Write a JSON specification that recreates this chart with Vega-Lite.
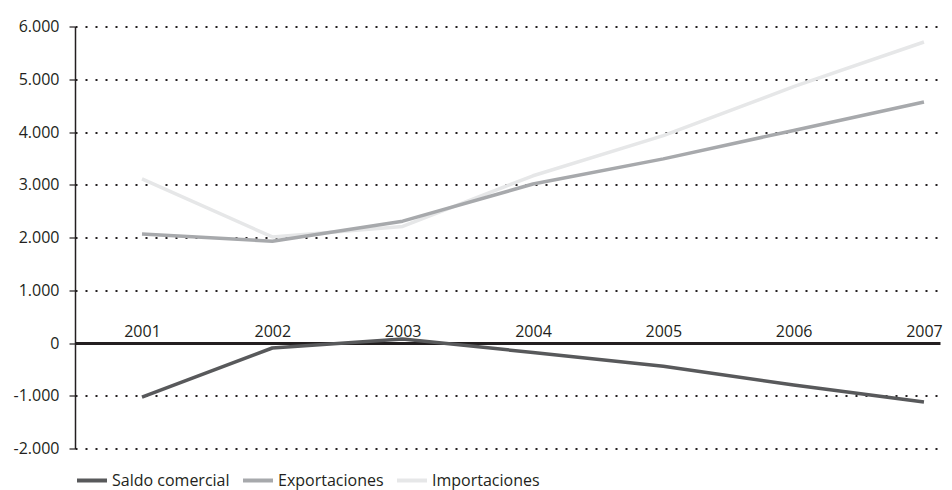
{
  "$schema": "https://vega.github.io/schema/vega-lite/v6.json",
  "autosize": {"type": "none"},
  "width": 865,
  "height": 422,
  "padding": {"left": 75, "top": 26.5, "right": 12, "bottom": 41.5},
  "background": "white",
  "config": {
    "view": {"stroke": null},
    "font": "Open Sans",
    "axis": {"labelFont": "Open Sans", "labelColor": "#231f20", "labelFontSize": 16}
  },
  "data": {
    "values": [
      {"year": 2001, "serie": "Importaciones", "valor": 3110},
      {"year": 2002, "serie": "Importaciones", "valor": 2010},
      {"year": 2003, "serie": "Importaciones", "valor": 2210},
      {"year": 2004, "serie": "Importaciones", "valor": 3170},
      {"year": 2005, "serie": "Importaciones", "valor": 3930},
      {"year": 2006, "serie": "Importaciones", "valor": 4860},
      {"year": 2007, "serie": "Importaciones", "valor": 5706},
      {"year": 2001, "serie": "Exportaciones", "valor": 2066},
      {"year": 2002, "serie": "Exportaciones", "valor": 1930},
      {"year": 2003, "serie": "Exportaciones", "valor": 2310},
      {"year": 2004, "serie": "Exportaciones", "valor": 3014},
      {"year": 2005, "serie": "Exportaciones", "valor": 3490},
      {"year": 2006, "serie": "Exportaciones", "valor": 4030},
      {"year": 2007, "serie": "Exportaciones", "valor": 4569},
      {"year": 2001, "serie": "Saldo comercial", "valor": -1025},
      {"year": 2002, "serie": "Saldo comercial", "valor": -95},
      {"year": 2003, "serie": "Saldo comercial", "valor": 76},
      {"year": 2004, "serie": "Saldo comercial", "valor": -180},
      {"year": 2005, "serie": "Saldo comercial", "valor": -440},
      {"year": 2006, "serie": "Saldo comercial", "valor": -797},
      {"year": 2007, "serie": "Saldo comercial", "valor": -1119}
    ]
  },
  "mark": {"type": "line", "strokeWidth": 3.5, "strokeCap": "butt", "strokeJoin": "round"},
  "encoding": {
    "x": {
      "field": "year",
      "type": "quantitative",
      "scale": {"domain": [2000.486, 2007.123], "nice": false, "zero": false},
      "axis": {
        "title": null,
        "grid": false,
        "values": [2001, 2001.35, 2002, 2002.41, 2003, 2003.46, 2004, 2004.52, 2005, 2005.57, 2006, 2006.64, 2007],
        "format": "d",
        "labelExpr": "datum.value % 1 === 0 ? datum.label : ''",
        "labelOverlap": false,
        "labelFlush": false,
        "labelBaseline": "alphabetic",
        "labelPadding": -12,
        "tickSize": 5,
        "tickColor": "#231f20",
        "tickWidth": 1.2,
        "tickOpacity": {"condition": {"test": "datum.value % 1 === 0", "value": 0}, "value": 1},
        "domainColor": "#231f20",
        "domainWidth": 3,
        "offset": -105.5
      }
    },
    "y": {
      "field": "valor",
      "type": "quantitative",
      "scale": {"domain": [-2000, 6000], "nice": false},
      "axis": {
        "title": null,
        "values": [-2000, -1000, 0, 1000, 2000, 3000, 4000, 5000, 6000],
        "labelExpr": "(datum.value < 0 ? '-' : '') + replace(format(abs(datum.value), ','), ',', '.')",
        "tickSize": 6,
        "tickColor": "#231f20",
        "tickWidth": 1.2,
        "labelPadding": 10,
        "domainColor": "#231f20",
        "domainWidth": 1.5,
        "grid": true,
        "gridColor": "#231f20",
        "gridWidth": 2,
        "gridDash": [2, 8],
        "gridDashOffset": 0
      }
    },
    "color": {
      "field": "serie",
      "type": "nominal",
      "scale": {
        "domain": ["Saldo comercial", "Exportaciones", "Importaciones"],
        "range": ["#58595b", "#a7a9ac", "#e6e7e8"]
      },
      "legend": {
        "title": null,
        "orient": "none",
        "direction": "horizontal",
        "legendX": 0,
        "legendY": 437,
        "symbolType": "stroke",
        "symbolSize": 900,
        "symbolStrokeWidth": 4,
        "labelFont": "Open Sans",
        "labelFontSize": 16,
        "labelColor": "#231f20",
        "labelOffset": 3,
        "columnPadding": 5
      }
    }
  }
}
